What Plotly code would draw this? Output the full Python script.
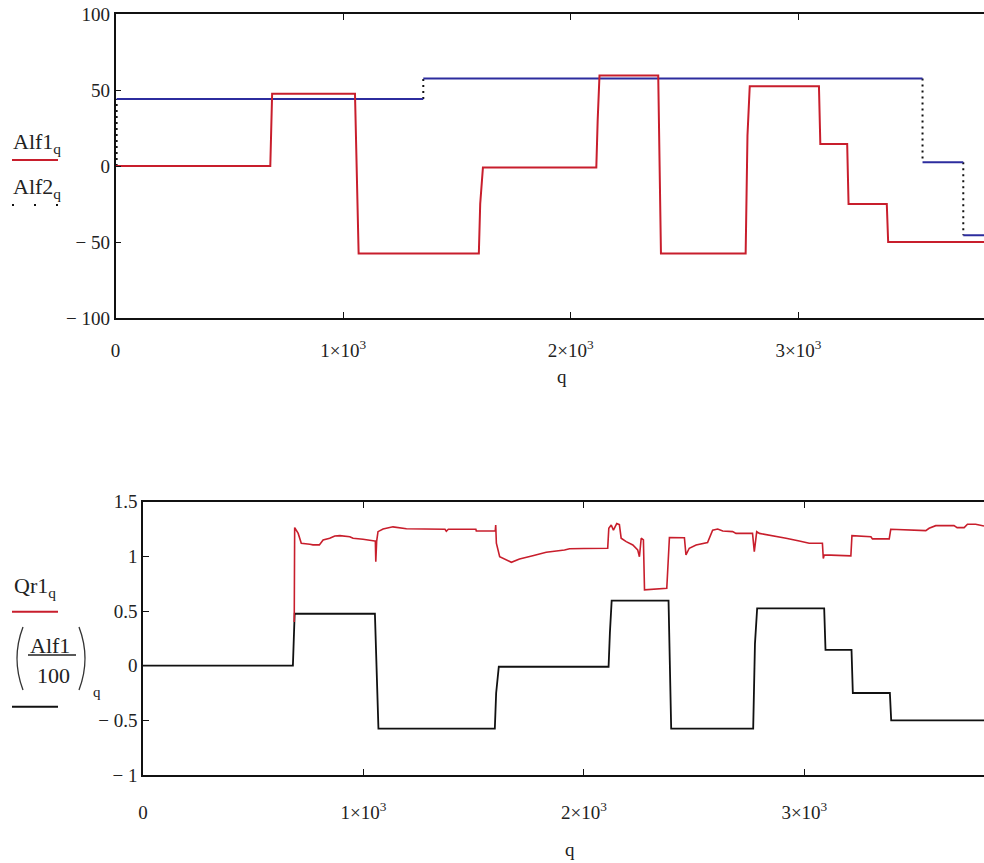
import plotly.graph_objects as go

# ---------------- data ----------------
# Alf1 : piecewise constant signal (breakpoints q, value)
alf1_q = [0, 680, 684, 688, 1052, 1058, 1068, 1596, 1602, 1614, 2112, 2118, 2126,
          2384, 2390, 2396, 2768, 2776, 2786, 3090, 3096, 3214, 3220, 3388, 3394, 3815]
alf1_v = [0, 0, 24, 47.5, 47.5, 10, -57.5, -57.5, -25, -1, -1, 30, 59.5,
          59.5, 0, -57.5, -57.5, 20, 52.5, 52.5, 14.5, 14.5, -25, -25, -50, -50]

# Alf2 : step levels (start q of each level, level); starts from 0
alf2_start = 0
alf2_q = [5, 1352, 3545, 3724]
alf2_v = [44, 57.5, 2.5, -45.5]
q_end = 3815

# Qr1 : noisy curve
qr1_q = [686, 688, 704, 718, 757, 771, 800, 817, 847, 870, 893, 938, 953, 998, 1051, 1054,
         1056, 1060, 1066, 1089, 1134, 1157, 1195, 1278, 1370, 1376, 1385, 1510, 1512, 1598,
         1600, 1603, 1618, 1671, 1708, 1768, 1829, 1912, 1935, 2000, 2108, 2113, 2124, 2134,
         2149, 2161, 2169, 2192, 2222, 2244, 2252, 2260, 2270, 2275, 2376, 2388, 2456, 2463,
         2478, 2509, 2546, 2561, 2584, 2607, 2630, 2675, 2690, 2765, 2773, 2784, 2796, 2826,
         2886, 2917, 2977, 3022, 3082, 3086, 3090, 3211, 3216, 3302, 3309, 3385, 3392, 3551,
         3566, 3596, 3679, 3693, 3725, 3740, 3777, 3808, 3815]
qr1_v = [0.40, 1.263, 1.21, 1.12, 1.11, 1.105, 1.105, 1.15, 1.165, 1.187, 1.19, 1.18, 1.165,
         1.157, 1.14, 1.14, 0.95, 1.14, 1.226, 1.25, 1.27, 1.265, 1.253, 1.25, 1.248, 1.23,
         1.248, 1.248, 1.232, 1.232, 1.287, 1.12, 0.997, 0.946, 0.976, 1.006, 1.037, 1.058,
         1.07, 1.072, 1.074, 1.257, 1.287, 1.24, 1.30, 1.29, 1.166, 1.135, 1.104, 1.059,
         0.997, 1.166, 1.15, 0.693, 0.708, 1.173, 1.17, 1.013, 1.074, 1.104, 1.12, 1.126,
         1.24, 1.25, 1.232, 1.226, 1.21, 1.21, 1.043, 1.226, 1.21, 1.2, 1.18, 1.166, 1.14,
         1.12, 1.12, 0.98, 1.013, 1.004, 1.19, 1.18, 1.16, 1.16, 1.248, 1.235, 1.257, 1.281,
         1.281, 1.263, 1.263, 1.294, 1.294, 1.278, 1.278]

x_tickvals = [0, 1000, 2000, 3000]
x_ticktext = ["0", "1×10<sup>3</sup>", "2×10<sup>3</sup>", "3×10<sup>3</sup>"]
y1_tickvals = [-100, -50, 0, 50, 100]
y1_ticktext = ["− 100", "− 50", "0", "50", "100"]
y2_tickvals = [-1, -0.5, 0, 0.5, 1, 1.5]
y2_ticktext = ["− 1", "− 0.5", "0", "0.5", "1", "1.5"]

# ---------------- styling ----------------
W, H = 984, 863
RED = "#c81e2c"
BLUE = "#2c2c9e"
FONT = "Liberation Serif, Times New Roman, serif"


def px(x):
    return x / W


def py(y):
    return 1 - y / H


# Alf2 horizontal levels and dotted jumps
ends = alf2_q[1:] + [q_end]
h_x, h_y = [], []
for q0, q1, v in zip(alf2_q, ends, alf2_v):
    h_x += [q0, q1, None]
    h_y += [v, v, None]
prev = [alf2_start] + alf2_v[:-1]
j_x, j_y = [], []
for q0, p, v in zip(alf2_q, prev, alf2_v):
    j_x += [q0, q0, None]
    j_y += [p, v, None]

fig = go.Figure()
fig.add_trace(go.Scatter(x=j_x, y=j_y, mode="lines", xaxis="x", yaxis="y",
                         line=dict(color="#111", width=2, dash="2px,4px"), hoverinfo="skip"))
fig.add_trace(go.Scatter(x=h_x, y=h_y, mode="lines", xaxis="x", yaxis="y",
                         line=dict(color=BLUE, width=2), name="Alf2"))
fig.add_trace(go.Scatter(x=alf1_q, y=alf1_v, mode="lines", xaxis="x", yaxis="y",
                         line=dict(color=RED, width=2), name="Alf1"))

fig.add_trace(go.Scatter(x=alf1_q, y=[v / 100 for v in alf1_v], mode="lines",
                         xaxis="x2", yaxis="y2", line=dict(color="#111", width=1.8), name="Alf1/100"))
fig.add_trace(go.Scatter(x=qr1_q, y=qr1_v, mode="lines", xaxis="x2", yaxis="y2",
                         line=dict(color=RED, width=1.6), name="Qr1"))

axis_common = dict(showgrid=False, zeroline=False, showline=True, linecolor="#111", linewidth=1.6,
                   ticks="inside", ticklen=6, tickwidth=1.4, tickcolor="#111", automargin=False,
                   tickfont=dict(family=FONT, size=19, color="#222"))
right_common = dict(side="right", showgrid=False, zeroline=False, showline=False, ticks="inside",
                    ticklen=6, tickwidth=1.4, tickcolor="#111", showticklabels=False,
                    automargin=False)

fig.update_layout(
    width=W, height=H, margin=dict(l=0, r=0, t=0, b=0, autoexpand=False),
    paper_bgcolor="white", plot_bgcolor="white", showlegend=False,
    font=dict(family=FONT, size=19, color="#222"),
    xaxis=dict(domain=[px(115.5), 1], range=[0, q_end], anchor="y", mirror="ticks",
               tickvals=x_tickvals, ticktext=x_ticktext, ticklabelstandoff=14, **axis_common),
    yaxis=dict(domain=[py(318), py(14)], range=[-100, 100], anchor="x",
               tickvals=y1_tickvals, ticktext=y1_ticktext, **axis_common),
    yaxis3=dict(overlaying="y", anchor="x", range=[-100, 100], tickvals=y1_tickvals, **right_common),
    xaxis2=dict(domain=[px(143), 1], range=[0, q_end], anchor="y2", mirror="ticks",
                tickvals=x_tickvals, ticktext=x_ticktext, ticklabelstandoff=19, **axis_common),
    yaxis2=dict(domain=[py(775), py(501.7)], range=[-1, 1.5], anchor="x2",
                tickvals=y2_tickvals, ticktext=y2_ticktext, **axis_common),
    yaxis4=dict(overlaying="y2", anchor="x2", range=[-1, 1.5], tickvals=y2_tickvals, **right_common),
)

ann = []
shapes = []


def text(x, y, s, size=19, anchor="center"):
    ann.append(dict(x=px(x), y=py(y), xref="paper", yref="paper", text=s, showarrow=False,
                    xanchor=anchor, yanchor="middle", font=dict(family=FONT, size=size, color="#222")))


def hline(x0, x1, y, color, dash="solid", width=2):
    shapes.append(dict(type="line", xref="paper", yref="paper", x0=px(x0), x1=px(x1),
                       y0=py(y), y1=py(y), line=dict(color=color, width=width, dash=dash)))


# axis titles
text(562, 377, "q")
text(570, 849, "q")

# top left labels
text(11, 143, "Alf1<sub>q</sub>", 22, "left")
hline(12, 58, 160, RED)
text(11, 188, "Alf2<sub>q</sub>", 22, "left")
hline(12, 58, 205, "#111", dash="2px,20px")

# bottom left labels
text(12, 587, "Qr1<sub>q</sub>", 22, "left")
hline(12, 58, 611.7, RED)
text(50, 645, "Alf1", 22)
shapes.append(dict(type="line", xref="paper", yref="paper", x0=px(28), x1=px(76),
                   y0=py(655), y1=py(655), line=dict(color="#222", width=1.3)))
text(53, 675, "100", 22)
shapes.append(dict(type="path", xref="paper", yref="paper",
                   path=f"M {px(23)} {py(627)} Q {px(11)} {py(658.5)} {px(23)} {py(690)}",
                   line=dict(color="#333", width=1.3)))
shapes.append(dict(type="path", xref="paper", yref="paper",
                   path=f"M {px(79)} {py(627)} Q {px(91)} {py(658.5)} {px(79)} {py(690)}",
                   line=dict(color="#333", width=1.3)))
text(97, 692, "q", 15)
hline(12, 58, 706.7, "#111")

fig.update_layout(annotations=ann, shapes=shapes)
fig.write_html("out.html", config={"displayModeBar": False},
               post_script="document.body.style.margin='0';document.body.style.overflow='hidden';")
